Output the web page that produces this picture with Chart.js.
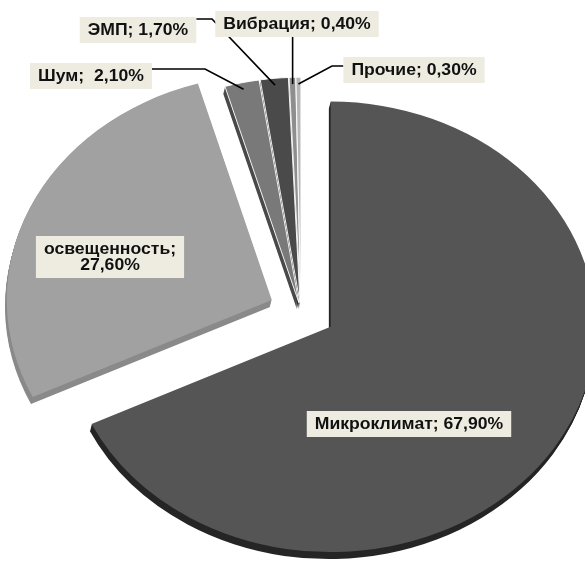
<!DOCTYPE html>
<html>
<head>
<meta charset="utf-8">
<script src="https://cdn.jsdelivr.net/npm/chart.js@4.4.0/dist/chart.umd.min.js"></script>
<style>
    html, body { margin: 0; padding: 0; background: #fff; }
    #wrap { width: 585px; height: 566px; }
</style>
</head>
<body>
<div id="wrap"><canvas id="pieChart" width="585" height="566"></canvas></div>
<script>
// data
const categories = ['Микроклимат', 'освещенность', 'Шум', 'ЭМП', 'Вибрация', 'Прочие'];
const shares = [67.9, 27.6, 2.1, 1.7, 0.4, 0.3];
const valueLabels = ['67,90%', '27,60%', '2,10%', '1,70%', '0,40%', '0,30%'];

// look
const topColors = ['#555555', '#a1a1a1', '#797979', '#4a4a4a', '#8e8e8e', '#b6b6b6'];
const sideColors = ['#262626', '#8a8a8a', '#4a4a4a', '#2a2a2a', '#666666', '#8a8a8a'];
const explode = [35, 32, 10, 10, 10, 10];
const squashY = 0.85;
const depth = 7;
const textStretch = 1.1;

// label layout
const labelSep = [' ', '\n', '  ', ' ', ' ', ' '];
const labelPos = [[409, 424], [110, 257], [91, 76], [138, 30], [297, 24], [414, 70]];
const leaderFrom = [null, null, 'right', 'right', 'bottom', 'left'];
const leaderElbow = [null, null, [205, 69], [212, 19], null, [332, 66]];

function midAngle(arc) {
    return (arc.startAngle + arc.endAngle) / 2;
}

function sliceTransform(ctx, arc, i, dx, dy) {
    const mid = midAngle(arc);
    ctx.translate(dx, dy);
    ctx.translate(arc.x, arc.y);
    ctx.scale(1, squashY);
    ctx.translate(-arc.x, -arc.y);
    ctx.translate(Math.cos(mid) * explode[i], Math.sin(mid) * explode[i]);
}

function outerPoint(arc, i, f) {
    const mid = midAngle(arc);
    const r = arc.outerRadius * f + explode[i];
    return {
        x: arc.x + Math.cos(mid) * r,
        y: arc.y + Math.sin(mid) * r * squashY
    };
}

const pie3d = {
    id: 'pie3d',
    beforeDatasetsDraw(chart) {
        const ctx = chart.ctx;
        const arcs = chart.getDatasetMeta(0).data;

        // side walls first
        arcs.forEach((arc, i) => {
            const saved = arc.options;
            arc.options = Object.assign({}, saved, { backgroundColor: sideColors[i], borderWidth: 0 });
            for (let d = depth; d > 0; d--) {
                ctx.save();
                sliceTransform(ctx, arc, i, -d * 0.25, d);
                arc.draw(ctx);
                ctx.restore();
            }
            arc.options = saved;
        });

        // top faces
        arcs.forEach((arc, i) => {
            ctx.save();
            sliceTransform(ctx, arc, i, 0, 0);
            arc.draw(ctx);
            ctx.restore();
        });
        return false;
    },
    afterDraw(chart) {
        const ctx = chart.ctx;
        const arcs = chart.getDatasetMeta(0).data;
        const lineH = 16;
        ctx.save();
        ctx.font = 'bold 16px "Liberation Sans", Arial, sans-serif';
        ctx.textAlign = 'center';
        ctx.textBaseline = 'middle';

        const boxes = categories.map((cat, i) => {
            const lines = (cat + ';' + labelSep[i] + valueLabels[i]).split('\n');
            const w = Math.max(...lines.map(l => ctx.measureText(l).width)) * textStretch + 16;
            const h = lines.length * lineH + 10;
            const [cx, cy] = labelPos[i];
            return { lines, cx, cy, x: cx - w / 2, y: cy - h / 2, w, h };
        });

        // leader lines
        ctx.strokeStyle = '#000';
        ctx.lineWidth = 1.6;
        arcs.forEach((arc, i) => {
            if (!leaderFrom[i]) return;
            const b = boxes[i];
            const end = outerPoint(arc, i, 0.97);
            ctx.beginPath();
            if (leaderFrom[i] === 'bottom') {
                ctx.moveTo(end.x, b.y + b.h);
            } else {
                const sx = leaderFrom[i] === 'right' ? b.x + b.w : b.x;
                ctx.moveTo(sx, leaderElbow[i][1]);
                ctx.lineTo(leaderElbow[i][0], leaderElbow[i][1]);
            }
            ctx.lineTo(end.x, end.y);
            ctx.stroke();
        });

        // label boxes
        boxes.forEach(b => {
            ctx.fillStyle = '#eeece1';
            ctx.fillRect(b.x, b.y, b.w, b.h);
            ctx.fillStyle = '#111';
            b.lines.forEach((l, k) => {
                ctx.save();
                ctx.translate(b.cx, b.cy + (k - (b.lines.length - 1) / 2) * lineH + 1);
                ctx.scale(textStretch, 1);
                ctx.fillText(l, 0, 0);
                ctx.restore();
            });
        });
        ctx.restore();
    }
};

new Chart(document.getElementById('pieChart'), {
    type: 'pie',
    data: {
        labels: categories,
        datasets: [{
            data: shares,
            backgroundColor: topColors,
            borderColor: '#ffffff',
            borderWidth: [0, 0, 1, 1, 1, 1],
            radius: 265
        }]
    },
    options: {
        responsive: false,
        animation: false,
        events: [],
        layout: { padding: { left: 17, top: 56, right: 0, bottom: 0 } },
        plugins: {
            legend: { display: false },
            tooltip: { enabled: false }
        }
    },
    plugins: [pie3d]
});
</script>
</body>
</html>
